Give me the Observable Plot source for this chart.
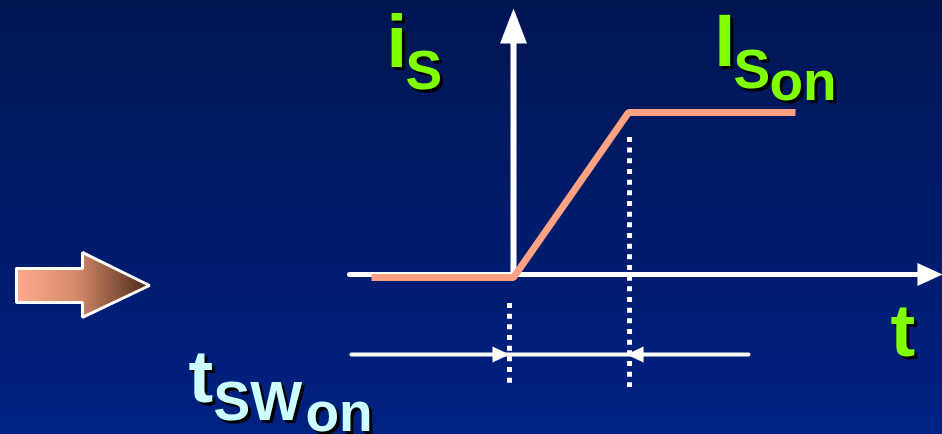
<!DOCTYPE html>
<html><head><meta charset="utf-8">
<script src="https://cdn.jsdelivr.net/npm/d3@7"></script>
<script src="https://cdn.jsdelivr.net/npm/@observablehq/plot@0.6"></script>
<style>
html,body{margin:0;padding:0;background:#001a6a;overflow:hidden}
.shadowed text{filter:drop-shadow(3px 3px 0 #000)}
</style>
</head><body><div id="chart"></div>
<script>
// Units: time t in multiples of t_SWon, current i in multiples of I_Son
const timeAxis = [{t: -1.426, i: 0}, {t: 3.56, i: 0}];
const timeAxisTip = [{t: 3.730, i: 0}];
const currentAxis = [{t: 0, i: 0}, {t: 0, i: 1.46}];
const currentAxisTip = [{t: 0, i: 1.642}];
const switchCurrent = [
  {t: -1.235, i: -0.0185},
  {t: 0, i: -0.0185},
  {t: 1.0, i: 1.0},
  {t: 2.452, i: 1.0}
];
const markers = [
  {t: -0.035, top: -0.179, bottom: -0.673},
  {t: 1.009, top: 0.846, bottom: -0.698}
];
const dimLine = [{t: -1.409, i: -0.494}, {t: 2.043, i: -0.494}];
const dimTips = [
  {t: -0.035, i: -0.494, dir: 90},
  {t: 0.983, i: -0.494, dir: -90}
];
const bigArrow = [
  {t: -4.322, i: 0.037}, {t: -3.748, i: 0.037}, {t: -3.748, i: 0.136},
  {t: -3.165, i: -0.068}, {t: -3.748, i: -0.265}, {t: -3.748, i: -0.173},
  {t: -4.322, i: -0.173}, {t: -4.322, i: 0.037}
];
const greenMain = [
  {text: "i", t: -1.104, i: 1.278},
  {text: "I", t: 1.748, i: 1.284},
  {text: "t", t: 3.278, i: -0.506}
];
const greenSub = [
  {text: "S", t: -0.939, i: 1.148},
  {text: "S", t: 1.913, i: 1.154},
  {text: "on", t: 2.226, i: 1.080}
];
const cyanMain = [{text: "t", t: -2.826, i: -0.784}];
const cyanSub = [
  {text: "SW", t: -2.609, i: -0.901},
  {text: "on", t: -1.809, i: -0.963}
];

const head = (w, l) => ({
  draw(ctx) { ctx.moveTo(0, 0); ctx.lineTo(w / 2, l); ctx.lineTo(-w / 2, l); ctx.closePath(); }
});

const FONT = "Liberation Sans, Arial, sans-serif";
const label = (data, size, color) =>
  Plot.text(data, {x: "t", y: "i", text: "text", textAnchor: "start", lineAnchor: "bottom",
    fontSize: size, fontWeight: "bold", fontFamily: FONT, fill: color, className: "shadowed"});

const chart = Plot.plot({
  width: 942, height: 434,
  margin: 0,
  x: {domain: [-513 / 115, (942 - 513) / 115], range: [0, 942], axis: null},
  y: {domain: [(274 - 434) / 162, 274 / 162], range: [434, 0], axis: null},
  style: {background: "linear-gradient(to bottom, #001552, #002182)", overflow: "visible"},
  marks: [
    Plot.line(bigArrow, {x: "t", y: "i", fill: "url(#arrowGrad)", stroke: "white", strokeWidth: 3, strokeLinejoin: "miter"}),
    Plot.line(timeAxis, {x: "t", y: "i", stroke: "white", strokeWidth: 5}),
    Plot.dot(timeAxisTip, {x: "t", y: "i", symbol: head(23, 25), rotate: 90, fill: "white", stroke: "none"}),
    Plot.line(currentAxis, {x: "t", y: "i", stroke: "white", strokeWidth: 6}),
    Plot.dot(currentAxisTip, {x: "t", y: "i", symbol: head(27, 35), fill: "white", stroke: "none"}),
    Plot.ruleX(markers, {x: "t", y1: "top", y2: "bottom", stroke: "white", strokeWidth: 5, strokeDasharray: "5,5.67"}),
    Plot.line(dimLine, {x: "t", y: "i", stroke: "white", strokeWidth: 4}),
    Plot.dot(dimTips, {x: "t", y: "i", symbol: head(16, 17), rotate: "dir", fill: "white", stroke: "none"}),
    Plot.line(switchCurrent, {x: "t", y: "i", stroke: "#ffa283", strokeWidth: 7, strokeLinejoin: "miter", strokeLinecap: "butt"}),
    label(greenMain, 74, "#80ff00"),
    label(greenSub, 55, "#80ff00"),
    label(cyanMain, 74, "#ccffff"),
    label(cyanSub, 55, "#ccffff")
  ]
});

const ns = "http://www.w3.org/2000/svg";
const defs = document.createElementNS(ns, "defs");
defs.innerHTML = '<linearGradient id="arrowGrad" x1="0" y1="0" x2="1" y2="0">' +
  '<stop offset="0" stop-color="#ffab8a"/><stop offset="0.45" stop-color="#d48a6a"/>' +
  '<stop offset="1" stop-color="#4a2818"/></linearGradient>';
chart.insertBefore(defs, chart.firstChild);
document.getElementById("chart").appendChild(chart);
</script>
</body></html>
